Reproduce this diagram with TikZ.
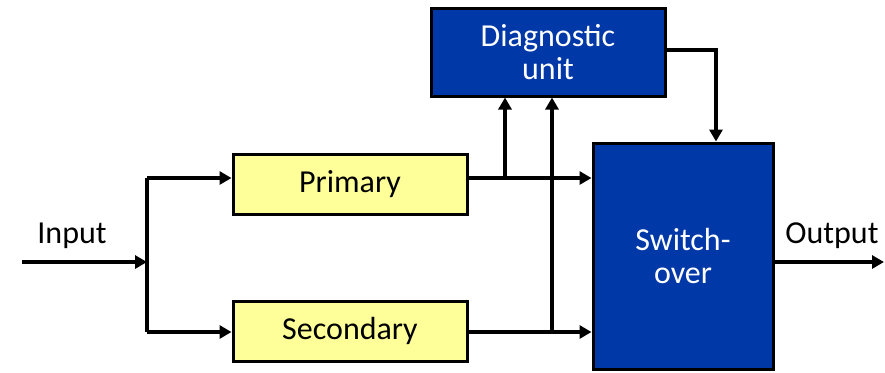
\documentclass[tikz,border=0pt]{standalone}
\usepackage{fontspec}
\setmainfont{Carlito}
\usetikzlibrary{arrows.meta}

\definecolor{boxyellow}{RGB}{255,255,153}
\definecolor{boxblue}{RGB}{0,56,168}

\tikzset{
    yellowbox/.style={draw=black, line width=1.5pt, fill=boxyellow, minimum width=117pt, minimum height=30pt},
    bluebox/.style={draw=black, line width=1.5pt, fill=boxblue, text=white, align=center},
    wire/.style={line width=2pt, -{Triangle[length=6pt,width=6.5pt]}}
}

\begin{document}
\begin{tikzpicture}[x=0.5pt, y=-0.5pt, font=\fontsize{16}{16.5}\selectfont]
    \useasboundingbox (0,0) rectangle (885,372);
    % Blocks
    \node[yellowbox] (Primary) at (350,184) {Primary};
    \node[yellowbox] (Secondary) at (350,331) {Secondary};
    \node[bluebox, minimum width=117pt, minimum height=44pt] (Diag) at (548,52) {Diagnostic\\unit};
    \node[bluebox, minimum width=90pt, minimum height=113pt] (Switch) at (683,256) {Switch-\\over};
    % Labels
    \node (InputLabel) at (72,236) {Input};
    \node (OutputLabel) at (832,236) {Output};
    % Junctions
    \coordinate (InStart) at (22,262);
    \coordinate (Split) at (147,262);
    \coordinate (SplitTop) at (147,178);
    \coordinate (SplitBot) at (147,332);
    \coordinate (PTap) at (505,178);
    \coordinate (STap) at (552,332);
    \coordinate (OutEnd) at (884,262);
    % Arrows
    \draw[wire] (InStart) -- (Split);
    \draw[line width=2pt] (SplitTop) -- (SplitBot);
    \draw[wire] (SplitTop) -- (Primary.west |- SplitTop);
    \draw[wire] (SplitBot) -- (Secondary.west |- SplitBot);
    \foreach \src/\tap in {Primary/PTap, Secondary/STap} {
        \draw[wire] (\src.east |- \tap) -- (Switch.west |- \tap);
        \draw[wire] (\tap) -- (Diag.south -| \tap);
    }
    \draw[wire] (Diag.east |- 0,50) -| (Switch.north -| 716,0);
    \draw[wire] (Switch.east |- OutEnd) -- (OutEnd);
\end{tikzpicture}
\end{document}
